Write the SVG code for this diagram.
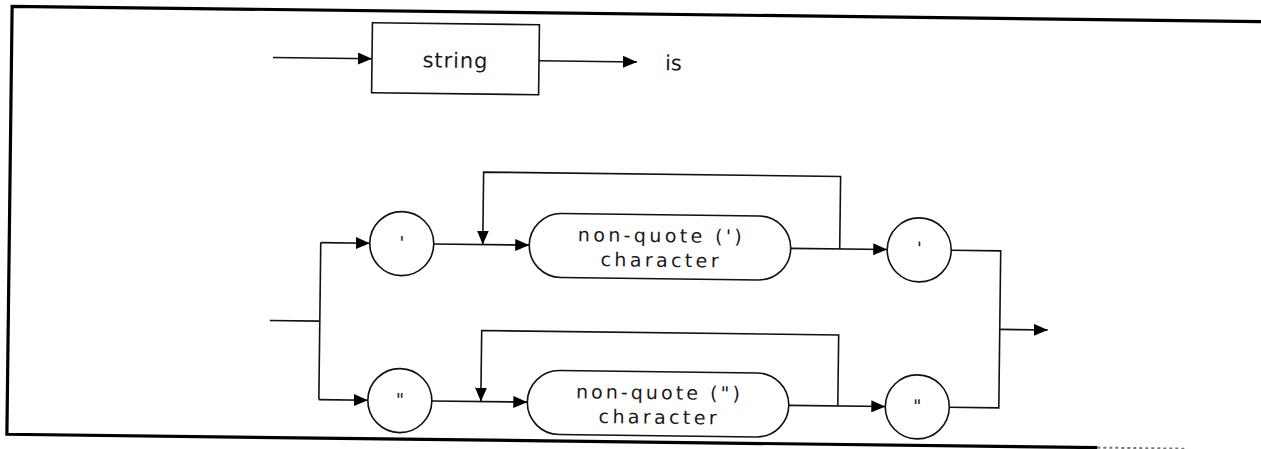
<svg xmlns="http://www.w3.org/2000/svg" width="1261" height="449" viewBox="0 0 1261 449">
<defs>
<style>
.ln{fill:none;stroke:#111;stroke-width:1.6}
.bd{fill:none;stroke:#000;stroke-width:3.2}
.bd2{fill:none;stroke:#777;stroke-width:2;stroke-dasharray:3 3}
.nd{fill:#fff;stroke:#111;stroke-width:1.6}
.tx{font-family:"DejaVu Sans","Liberation Sans",sans-serif;fill:#1a1a1a}
.bx{font-size:19px;text-anchor:middle}
.mk{font-size:18px;text-anchor:middle}
.lb{font-size:21px}
</style>
<marker id="ah" markerWidth="14" markerHeight="12" refX="14" refY="6" orient="auto" markerUnits="userSpaceOnUse">
<path d="M0,0 L14,6 L0,12 z" fill="#000"/>
</marker>
</defs>
<rect width="1261" height="449" fill="#fff"/>
<g transform="rotate(0.7 640 225)">
<g id="frame">
<path class="bd" d="M1280,14 H9.5 V442 H1100"/>
<path class="bd2" d="M1100,442 H1190"/>
</g>
<g id="connectors">
<path class="ln" d="M271,62 H370" marker-end="url(#ah)"/>
<path class="ln" d="M537,62 H635" marker-end="url(#ah)"/>
<path class="ln" d="M271,325 H321"/>
<path class="ln" d="M321,246.5 V403.5"/>
<path class="ln" d="M321,246.5 H370" marker-end="url(#ah)"/>
<path class="ln" d="M321,403.5 H370" marker-end="url(#ah)"/>
<path class="ln" d="M434,246.5 H529.5" marker-end="url(#ah)"/>
<path class="ln" d="M840,246.5 V174 H483 V246.5" marker-end="url(#ah)"/>
<path class="ln" d="M791,246.5 H887.5" marker-end="url(#ah)"/>
<path class="ln" d="M434,403.5 H529.5" marker-end="url(#ah)"/>
<path class="ln" d="M840,403.5 V332.5 H483 V403.5" marker-end="url(#ah)"/>
<path class="ln" d="M791,403.5 H887.5" marker-end="url(#ah)"/>
<path class="ln" d="M951.5,246.5 H1001 V403.5 H951.5"/>
<path class="ln" d="M1001,325 H1049" marker-end="url(#ah)"/>
</g>
<g id="string-box">
<rect class="nd" x="370" y="26" width="167" height="70"/>
<text class="tx lb" x="453" y="70" text-anchor="middle" textLength="65" lengthAdjust="spacing">string</text>
</g>
<g id="is-label">
<text class="tx lb" x="663" y="70">is</text>
</g>
<g id="open-single">
<circle class="nd" cx="402" cy="246.5" r="32"/>
<text class="tx mk" x="402" y="252">'</text>
</g>
<g id="char-single">
<rect class="nd" x="529.5" y="214.5" width="261.5" height="64" rx="32"/>
<text class="tx bx" x="660" y="242" textLength="164" lengthAdjust="spacing">non-quote (')</text>
<text class="tx bx" x="660" y="266.5" textLength="118" lengthAdjust="spacing">character</text>
</g>
<g id="close-single">
<circle class="nd" cx="919.5" cy="246.5" r="32"/>
<text class="tx mk" x="919.5" y="251">'</text>
</g>
<g id="open-double">
<circle class="nd" cx="402" cy="403.5" r="32"/>
<text class="tx mk" x="402" y="409">"</text>
</g>
<g id="char-double">
<rect class="nd" x="529.5" y="371.5" width="261.5" height="64" rx="32"/>
<text class="tx bx" x="660" y="399" textLength="164" lengthAdjust="spacing">non-quote (")</text>
<text class="tx bx" x="660" y="423.5" textLength="118" lengthAdjust="spacing">character</text>
</g>
<g id="close-double">
<circle class="nd" cx="919.5" cy="403.5" r="32"/>
<text class="tx mk" x="919.5" y="409">"</text>
</g>
</g>
</svg>
